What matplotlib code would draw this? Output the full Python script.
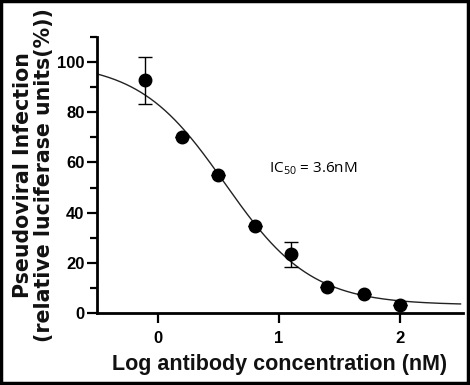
import numpy as np
import matplotlib
matplotlib.use("Agg")
import matplotlib.pyplot as plt
from matplotlib.patches import Rectangle
from matplotlib.ticker import MultipleLocator

# Data
log_conc = [-0.1, 0.2, 0.5, 0.8, 1.1, 1.4, 1.7, 2.0]
infection = [92.8, 70.3, 55.0, 34.8, 23.5, 10.2, 7.7, 3.2]
err_low = [9.7, 0, 0, 0, 5.1, 0, 0, 0]
err_high = [9.3, 0, 0, 0, 4.7, 0, 0, 0]

# fitted 4PL curve parameters
fit_top = 100.0
fit_bottom = 3.2
fit_log_ic50 = 0.556
fit_hill = 1.22

x_ticks = [0, 1, 2]
y_ticks = [0, 20, 40, 60, 80, 100]

plt.rcParams['font.family'] = ['Liberation Sans', 'DejaVu Sans']
plt.rcParams['mathtext.fontset'] = 'custom'
plt.rcParams['mathtext.rm'] = 'Open Sans'

fig = plt.figure(figsize=(4.7, 3.85), dpi=100)
ax = fig.add_axes([0.2064, 0.187, 0.7786, 0.717])

xf = np.linspace(-0.5, 2.5, 300)
yf = fit_bottom + (fit_top - fit_bottom) / (1 + 10 ** ((xf - fit_log_ic50) * fit_hill))
ax.plot(xf, yf, color='#222222', lw=1.0, zorder=2)

ax.errorbar(log_conc, infection, yerr=[err_low, err_high], fmt='o', color='black',
            ms=9, ecolor='black', elinewidth=1.0, capsize=5, capthick=1.0, zorder=3)

ax.set_xlim(-0.5, 2.52)
ax.set_ylim(0, 110)
ax.set_xticks(x_ticks)
ax.set_yticks(y_ticks)
ax.yaxis.set_minor_locator(MultipleLocator(10))
for s in ['top', 'right']:
    ax.spines[s].set_visible(False)
for s in ['left', 'bottom']:
    ax.spines[s].set_linewidth(2.0)
ax.tick_params(axis='both', which='major', length=7, width=1.6, labelsize=12, pad=2)
ax.tick_params(axis='y', which='minor', length=5, width=1.6)
ax.tick_params(axis='x', which='major', pad=6)
for lbl in ax.get_xticklabels() + ax.get_yticklabels():
    lbl.set_fontweight('bold')

ax.set_xlabel('Log antibody concentration (nM)', fontsize=15.5, fontweight='bold',
              labelpad=6, color='#111111')
ax.set_ylabel('Pseudoviral Infection\n(relative luciferase units(%))', fontsize=14.8,
              fontweight='bold', labelpad=2, linespacing=1.05, family='DejaVu Sans',
              color='#111111')

ax.text(0.92, 57.5, 'IC$_{50}$ = 3.6nM', fontsize=11, family='Open Sans',
        va='center', ha='left')

fig.patches.append(Rectangle((0.002, 0.004), 0.994, 0.993, transform=fig.transFigure,
                             fill=False, edgecolor='black', lw=2.5))

fig.savefig('out.png', dpi=100)
